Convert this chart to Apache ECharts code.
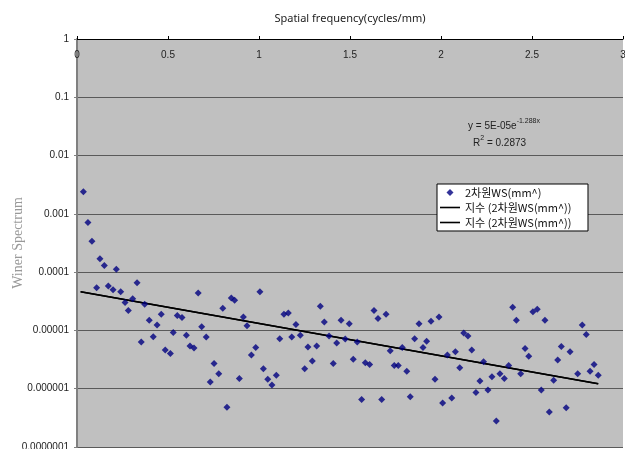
<!DOCTYPE html>
<html>
<head>
<meta charset="utf-8">
<script src="https://cdn.jsdelivr.net/npm/echarts@6/dist/echarts.min.js"></script>
<style>
html,body{margin:0;padding:0;background:#fff;}
#chart{width:625px;height:449px;}
</style>
</head>
<body>
<div id="chart"></div>
<script>
// Spatial frequency (cycles/mm)
const freq = [
0.035,0.060,0.082,0.108,0.126,0.150,0.172,0.198,0.216,0.240,
0.264,0.282,0.306,0.330,0.353,0.372,0.397,0.419,0.440,0.463,
0.485,0.513,0.529,0.551,0.577,0.601,0.621,0.643,0.666,0.685,
0.710,0.732,0.753,0.779,0.801,0.824,0.848,0.866,0.892,0.914,
0.934,0.958,0.982,1.005,1.024,1.048,1.071,1.095,1.114,1.137,
1.161,1.180,1.203,1.227,1.251,1.269,1.293,1.317,1.337,1.359,
1.385,1.408,1.427,1.451,1.474,1.496,1.518,1.540,1.564,1.584,
1.608,1.632,1.654,1.674,1.698,1.721,1.743,1.765,1.787,1.812,
1.831,1.855,1.879,1.901,1.921,1.945,1.967,1.989,2.009,2.035,
2.059,2.079,2.103,2.125,2.148,2.169,2.192,2.214,2.234,2.258,
2.280,2.304,2.324,2.348,2.372,2.394,2.414,2.438,2.462,2.482,
2.505,2.529,2.551,2.571,2.595,2.619,2.641,2.661,2.688,2.709,
2.751,2.776,2.798,2.819,2.841,2.864
];
// 2차원 WS (mm^) values
const wsValues = [
2.4e-3,7.1e-4,3.4e-4,5.4e-5,1.7e-4,1.3e-4,5.8e-5,5.0e-5,1.12e-4,4.6e-5,
3.0e-5,2.2e-5,3.5e-5,6.6e-5,6.3e-6,2.8e-5,1.5e-5,7.8e-6,1.24e-5,1.9e-5,
4.6e-6,4.0e-6,9.2e-6,1.8e-5,1.66e-5,8.3e-6,5.4e-6,5.0e-6,4.4e-5,1.16e-5,
7.7e-6,1.3e-6,2.7e-6,1.8e-6,2.4e-5,4.8e-7,3.6e-5,3.3e-5,1.5e-6,1.7e-5,
1.2e-5,3.8e-6,5.1e-6,4.6e-5,2.2e-6,1.45e-6,1.16e-6,1.7e-6,7.2e-6,1.9e-5,
2.0e-5,7.7e-6,1.26e-5,8.3e-6,2.2e-6,5.2e-6,3.0e-6,5.4e-6,2.6e-5,1.4e-5,
8.0e-6,2.7e-6,6.1e-6,1.5e-5,7.1e-6,1.3e-5,3.2e-6,6.3e-6,6.5e-7,2.8e-6,
2.6e-6,2.2e-5,1.6e-5,6.5e-7,1.9e-5,4.5e-6,2.5e-6,2.5e-6,5.1e-6,2.0e-6,
7.3e-7,7.2e-6,1.3e-5,5.1e-6,6.5e-6,1.44e-5,1.45e-6,1.7e-5,5.7e-7,3.8e-6,
6.9e-7,4.3e-6,2.3e-6,9.0e-6,8.0e-6,4.6e-6,8.6e-7,1.35e-6,2.9e-6,9.5e-7,
1.6e-6,2.8e-7,1.8e-6,1.5e-6,2.5e-6,2.5e-5,1.5e-5,1.8e-6,4.9e-6,3.6e-6,
2.1e-5,2.3e-5,9.5e-7,1.5e-5,4.0e-7,1.4e-6,3.1e-6,5.3e-6,4.7e-7,4.3e-6,
1.8e-6,1.24e-5,8.5e-6,2.0e-6,2.6e-6,1.7e-6
];
// Exponential trend line endpoints
const trendX = [0.02, 2.864];
const trendY = [4.6e-5, 1.22e-6];

const xTickLabels = ['0','0.5','1','1.5','2','2.5','3'];
const yTickLabels = ['0.0000001','0.000001','0.00001','0.0001','0.001','0.01','0.1','1'];

const seriesName = '2차원WS(mm^)';
const trendName1 = '지수 (2차원WS(mm^))';
const trendName2 = '지수 (2차원WS(mm^)) ';

const scatterData = freq.map((f, i) => [f, wsValues[i]]);
const trendData = trendX.map((f, i) => [f, trendY[i]]);

const chart = echarts.init(document.getElementById('chart'), null, {renderer: 'canvas'});
const numFont = 'Liberation Sans, Arial, sans-serif';
const lineIcon = 'path://M0,0L20,0L20,1.6L0,1.6Z';
const diamondIcon = 'path://M5,0L10,5L5,10L0,5Z';

chart.setOption({
  backgroundColor: '#ffffff',
  animation: false,
  grid: {
    left: 77, top: 39, right: 2, bottom: 2,
    outerBoundsMode: 'none', containLabel: false,
    show: true, backgroundColor: '#c0c0c0', borderWidth: 0
  },
  xAxis: {
    type: 'value', position: 'top', min: 0, max: 3, interval: 0.5,
    name: 'Spatial frequency(cycles/mm)', nameLocation: 'middle', nameGap: 15,
    nameMoveOverlap: false,
    nameTextStyle: {fontFamily: 'Noto Sans, sans-serif', fontSize: 11, color: '#222'},
    axisLine: {show: true, lineStyle: {color: '#000', width: 1}},
    axisTick: {show: true, inside: false, length: 3, lineStyle: {color: '#000'}},
    axisLabel: {
      inside: true, margin: 11, fontFamily: numFont, fontSize: 10, color: '#222',
      formatter: (v) => { const i = Math.round(v / 0.5); return xTickLabels[i] !== undefined ? xTickLabels[i] : ''; }
    },
    splitLine: {show: false}
  },
  yAxis: {
    type: 'log', logBase: 10, min: 1e-7, max: 1,
    name: 'Winer Spectrum', nameLocation: 'middle', nameGap: 52, nameRotate: 90,
    nameMoveOverlap: false,
    nameTextStyle: {fontFamily: 'Liberation Serif, DejaVu Serif, serif', fontSize: 14, color: '#999'},
    axisLine: {show: true, lineStyle: {color: '#808080', width: 2}},
    axisTick: {show: true, length: 3, lineStyle: {color: '#808080'}},
    axisLabel: {
      margin: 8, fontFamily: numFont, fontSize: 10, color: '#222',
      formatter: (v) => { const i = Math.round(Math.log10(v)) + 7; return yTickLabels[i] !== undefined ? yTickLabels[i] : ''; }
    },
    splitLine: {show: true, lineStyle: {color: '#5a5a5a', width: 1}}
  },
  legend: {
    orient: 'vertical', left: 437, top: 184,
    width: 150,
    backgroundColor: '#ffffff', borderColor: '#000', borderWidth: 1,
    padding: [3, 14, 3, 3],
    itemWidth: 20, itemHeight: 7, itemGap: 4,
    symbolKeepAspect: true,
    textStyle: {fontFamily: 'Noto Sans CJK KR, sans-serif', fontSize: 11, color: '#111'},
    data: [
      {name: seriesName, icon: diamondIcon},
      {name: trendName1, icon: lineIcon},
      {name: trendName2, icon: lineIcon}
    ]
  },
  graphic: [
    {
      type: 'text', left: 468, top: 118, silent: true,
      style: {
        text: '{b|y = 5E-05e}{s|-1.288x}',
        rich: {
          b: {fontFamily: numFont, fontSize: 10, fill: '#222', lineHeight: 14, verticalAlign: 'bottom'},
          s: {fontFamily: numFont, fontSize: 7, fill: '#222', lineHeight: 8, padding: [0, 0, 6, 0], verticalAlign: 'bottom'}
        }
      }
    },
    {
      type: 'text', left: 473, top: 135, silent: true,
      style: {
        text: '{b|R}{s|2}{b| = 0.2873}',
        rich: {
          b: {fontFamily: numFont, fontSize: 10, fill: '#222', lineHeight: 14, verticalAlign: 'bottom'},
          s: {fontFamily: numFont, fontSize: 7, fill: '#222', lineHeight: 8, padding: [0, 0, 6, 0], verticalAlign: 'bottom'}
        }
      }
    }
  ],
  series: [
    {
      name: seriesName, type: 'scatter', data: scatterData,
      symbol: 'diamond', symbolSize: 7,
      itemStyle: {color: '#00007f'}, z: 3
    },
    {
      name: trendName1, type: 'line', data: trendData,
      showSymbol: false, symbol: 'none',
      lineStyle: {color: '#000', width: 1.5}, itemStyle: {color: '#000'}, z: 2
    },
    {
      name: trendName2, type: 'line', data: trendData,
      showSymbol: false, symbol: 'none',
      lineStyle: {color: '#000', width: 1.5}, itemStyle: {color: '#000'}, z: 2
    }
  ]
});
</script>
</body>
</html>
